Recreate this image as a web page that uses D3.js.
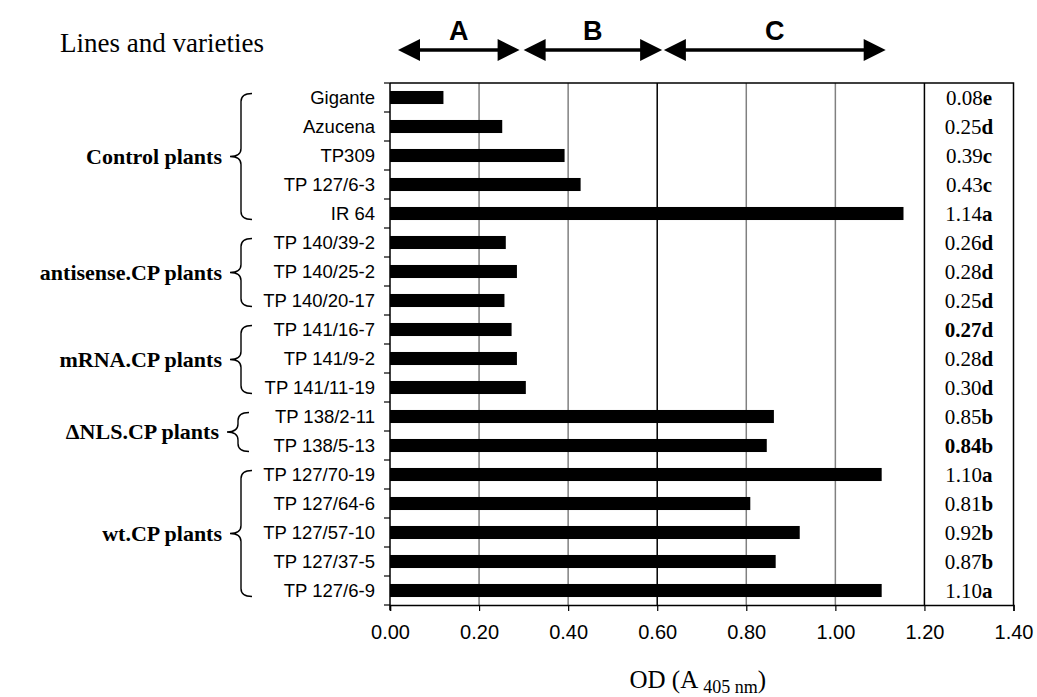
<!DOCTYPE html>
<html>
<head>
<meta charset="utf-8">
<script src="https://cdn.jsdelivr.net/npm/d3@7"></script>
<style>
  body { margin: 0; background: #fff; }
  svg { display: block; }
</style>
</head>
<body>
<script>
// data
const groups = ["Control plants", "antisense.CP plants", "mRNA.CP plants", "\u0394NLS.CP plants", "wt.CP plants"];
const groupSizes = [5, 3, 3, 2, 5];
const lines = ["Gigante", "Azucena", "TP309", "TP 127/6-3", "IR 64",
  "TP 140/39-2", "TP 140/25-2", "TP 140/20-17",
  "TP 141/16-7", "TP 141/9-2", "TP 141/11-19",
  "TP 138/2-11", "TP 138/5-13",
  "TP 127/70-19", "TP 127/64-6", "TP 127/57-10", "TP 127/37-5", "TP 127/6-9"];
const od = [0.12, 0.252, 0.392, 0.428, 1.153,
  0.26, 0.285, 0.257,
  0.273, 0.285, 0.305,
  0.862, 0.846,
  1.104, 0.809, 0.92, 0.866, 1.104];
const means = ["0.08", "0.25", "0.39", "0.43", "1.14", "0.26", "0.28", "0.25", "0.27",
  "0.28", "0.30", "0.85", "0.84", "1.10", "0.81", "0.92", "0.87", "1.10"];
const letters = ["e", "d", "c", "c", "a", "d", "d", "d", "d", "d", "d", "b", "b", "a", "b", "b", "b", "a"];
const allBold = [false, false, false, false, false, false, false, false, true,
  false, false, false, true, false, false, false, false, false];
const ticks = [0, 0.2, 0.4, 0.6, 0.8, 1.0, 1.2, 1.4];
const rangeNames = ["A", "B", "C"];
const rangeFrom = [0.018, 0.300, 0.615];
const rangeTo = [0.291, 0.611, 1.113];

const w = 1037, h = 697;
const plotLeft = 390, plotRight = 1013.5, plotTop = 83, plotBottom = 605;

const svg = d3.select("body").append("svg")
  .attr("width", w)
  .attr("height", h);

const x = d3.scaleLinear().domain([0, 1.4]).range([plotLeft, plotRight]);
const y = d3.scaleBand().domain(lines).range([plotTop, plotBottom]).paddingInner(0.55).paddingOuter(0.275);
const rowStep = y.step();

// gridlines
svg.selectAll(".grid")
  .data(ticks.filter(d => d > 0 && d < 1.4))
  .enter().append("line")
  .attr("x1", d => x(d)).attr("x2", d => x(d))
  .attr("y1", plotTop).attr("y2", plotBottom)
  .style("stroke", d => (d === 0.6 || d === 1.2) ? "#000" : "#808080")
  .style("stroke-width", 1.5);

// frame: top and right border
svg.append("path")
  .attr("d", `M${plotLeft},${plotTop}H${plotRight}V${plotBottom}`)
  .style("fill", "none").style("stroke", "#000").style("stroke-width", 1.5);

// bars
svg.selectAll(".bar")
  .data(lines).enter()
  .append("rect")
  .attr("x", x(0))
  .attr("y", d => y(d))
  .attr("width", (d, i) => x(od[i]) - x(0))
  .attr("height", y.bandwidth())
  .style("fill", "#000");

// left axis with ticks between rows
svg.append("line")
  .attr("x1", plotLeft).attr("x2", plotLeft).attr("y1", plotTop).attr("y2", plotBottom + 5)
  .style("stroke", "#000").style("stroke-width", 1.5);
svg.selectAll(".ytick")
  .data(d3.range(lines.length + 1)).enter()
  .append("line")
  .attr("x1", plotLeft - 6).attr("x2", plotLeft)
  .attr("y1", i => plotTop + i * rowStep).attr("y2", i => plotTop + i * rowStep)
  .style("stroke", "#000").style("stroke-width", 1.2);

// bottom axis
const xAxis = d3.axisBottom(x).tickValues(ticks).tickSize(6).tickFormat(d3.format(".2f"));
const gx = svg.append("g").attr("transform", `translate(0,${plotBottom})`).call(xAxis);
gx.select(".domain").style("stroke", "#000").style("stroke-width", 1.5);
gx.selectAll(".tick line").style("stroke", "#000").style("stroke-width", 1.2);
gx.selectAll(".tick text")
  .attr("y", 20)
  .style("font-family", "Arial, 'Liberation Sans', sans-serif")
  .style("font-size", "20px")
  .style("fill", "#000");

// line names
svg.selectAll(".name")
  .data(lines).enter()
  .append("text")
  .attr("x", 375)
  .attr("y", d => y(d) + y.bandwidth() / 2)
  .attr("dy", "0.35em")
  .attr("text-anchor", "end")
  .style("font-family", "Arial, 'Liberation Sans', sans-serif")
  .style("font-size", "18.5px")
  .text(d => d);

// mean values with letters
const vals = svg.selectAll(".val")
  .data(lines).enter()
  .append("text")
  .attr("x", (x(1.2) + plotRight) / 2)
  .attr("y", d => y(d) + y.bandwidth() / 2)
  .attr("dy", "0.36em")
  .attr("text-anchor", "middle")
  .style("font-family", "'Times New Roman', 'Liberation Serif', serif")
  .style("font-size", "21px");
vals.append("tspan")
  .style("font-weight", (d, i) => allBold[i] ? "bold" : "normal")
  .text((d, i) => means[i]);
vals.append("tspan")
  .style("font-weight", "bold")
  .text((d, i) => letters[i]);

// braces and group labels
function brace(xt, y1, y2, bw) {
  const xm = xt + bw / 2, xr = xt + bw, ym = (y1 + y2) / 2, r = 8;
  return `M${xr},${y1} Q${xm},${y1} ${xm},${y1 + r} L${xm},${ym - r} Q${xm},${ym} ${xt},${ym}` +
    ` Q${xm},${ym} ${xm},${ym + r} L${xm},${y2 - r} Q${xm},${y2} ${xr},${y2}`;
}
let start = 0;
groups.forEach((g, gi) => {
  const first = lines[start], last = lines[start + groupSizes[gi] - 1];
  const y1 = y(first) + y.bandwidth() / 2 - 4;
  const y2 = y(last) + y.bandwidth() / 2 + 6;
  const xt = groupSizes[gi] === 2 ? 227 : 230;
  svg.append("path")
    .attr("d", brace(xt, y1, y2, 22))
    .style("fill", "none").style("stroke", "#000").style("stroke-width", 1.4);
  svg.append("text")
    .attr("x", xt - 8)
    .attr("y", (y1 + y2) / 2)
    .attr("dy", "0.33em")
    .attr("text-anchor", "end")
    .style("font-family", "'Times New Roman', 'Liberation Serif', serif")
    .style("font-weight", "bold")
    .style("font-size", "22px")
    .text(g);
  start += groupSizes[gi];
});

// header
svg.append("text")
  .attr("x", 60).attr("y", 52)
  .style("font-family", "'Times New Roman', 'Liberation Serif', serif")
  .style("font-size", "27px")
  .text("Lines and varieties");

// range arrows A, B, C
const ay = 50, head = 22, hh = 11;
rangeNames.forEach((n, i) => {
  const x1 = x(rangeFrom[i]), x2 = x(rangeTo[i]);
  svg.append("line")
    .attr("x1", x1 + head - 2).attr("x2", x2 - head + 2)
    .attr("y1", ay).attr("y2", ay)
    .style("stroke", "#000").style("stroke-width", 3.5);
  svg.append("path")
    .attr("d", `M${x1},${ay} L${x1 + head},${ay - hh} L${x1 + head},${ay + hh} Z`)
    .style("fill", "#000");
  svg.append("path")
    .attr("d", `M${x2},${ay} L${x2 - head},${ay - hh} L${x2 - head},${ay + hh} Z`)
    .style("fill", "#000");
  svg.append("text")
    .attr("x", (x1 + x2) / 2).attr("y", 40)
    .attr("text-anchor", "middle")
    .style("font-family", "Arial, 'Liberation Sans', sans-serif")
    .style("font-weight", "bold")
    .style("font-size", "27px")
    .text(n);
});

// axis title
const title = svg.append("text")
  .attr("x", (plotLeft + plotRight) / 2 - 4).attr("y", 688)
  .attr("text-anchor", "middle")
  .style("font-family", "'Times New Roman', 'Liberation Serif', serif")
  .style("font-size", "25px");
title.append("tspan").text("OD (A ");
title.append("tspan").attr("dy", 5).style("font-size", "18px").text("405 nm");
title.append("tspan").attr("dy", -5).text(")");
</script>
</body>
</html>
